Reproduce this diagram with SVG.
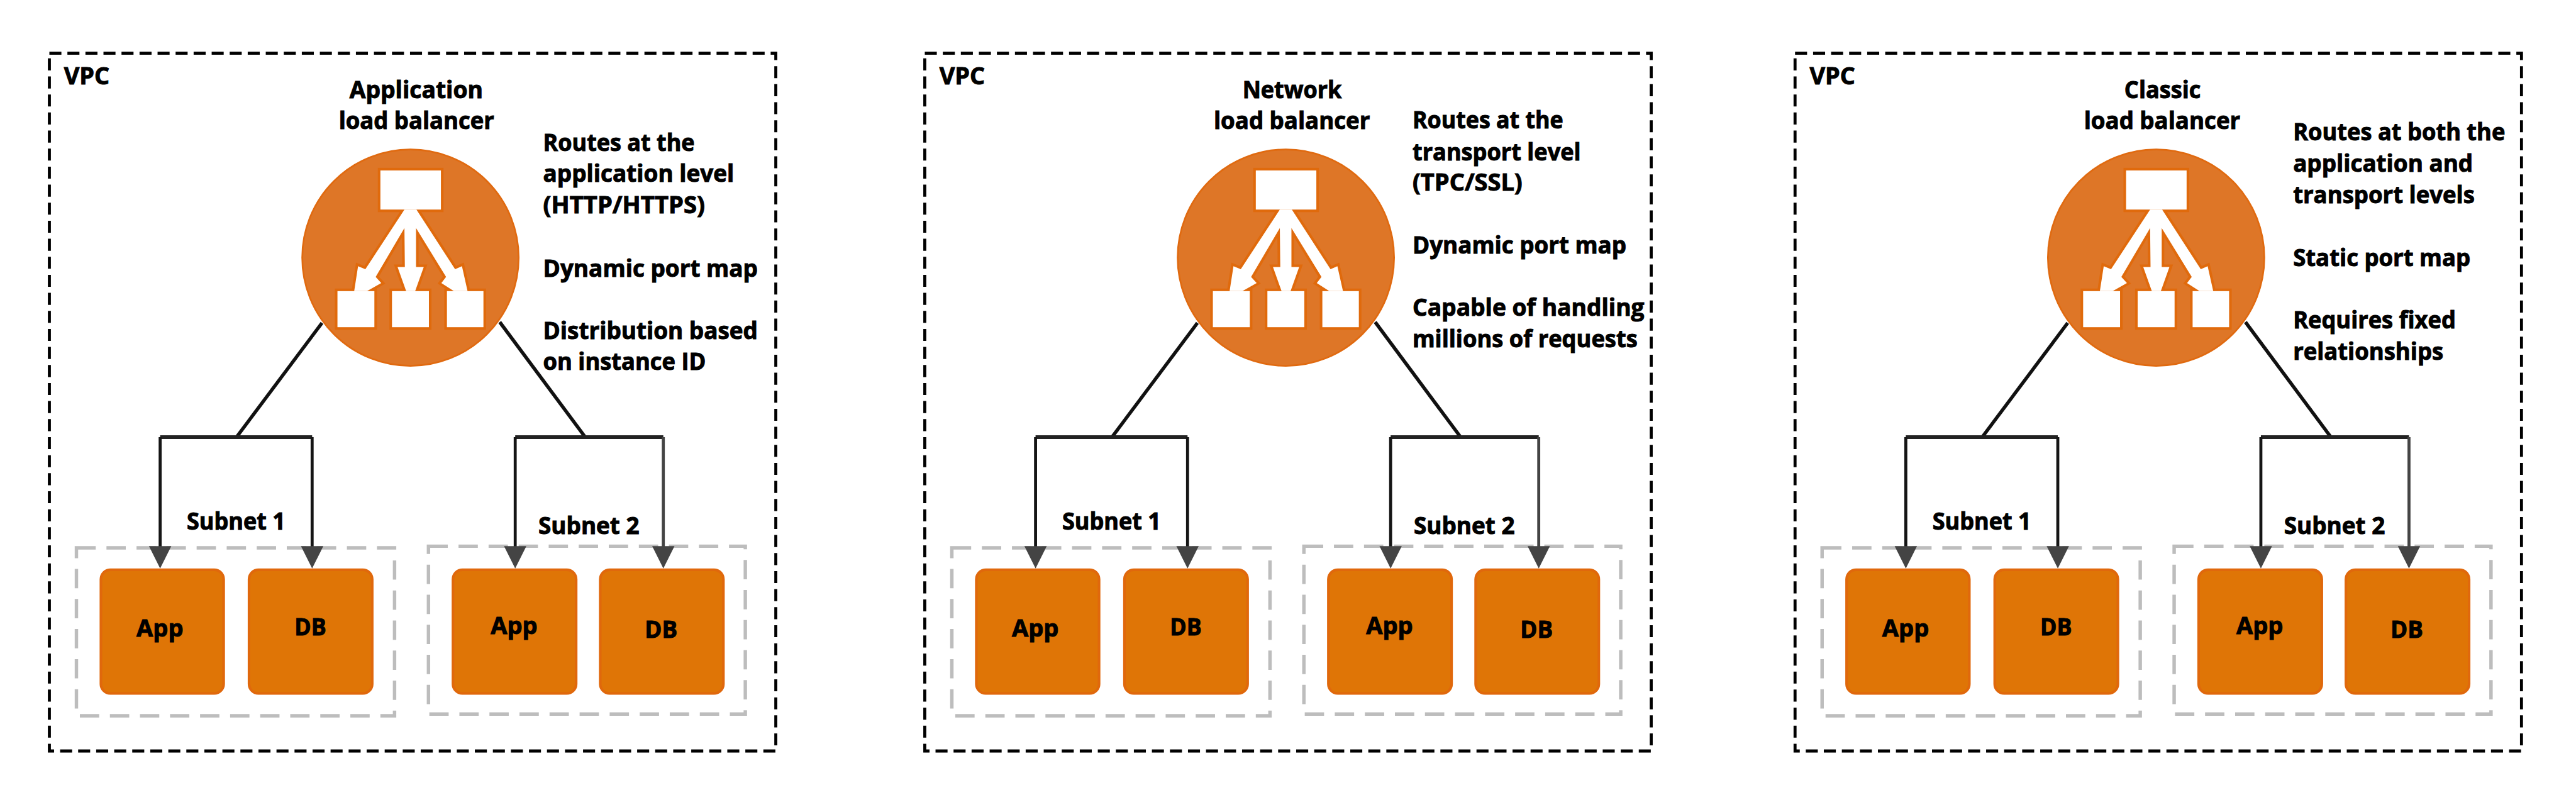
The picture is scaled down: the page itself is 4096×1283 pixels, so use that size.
<svg xmlns="http://www.w3.org/2000/svg" xmlns:xlink="http://www.w3.org/1999/xlink" width="4096" height="1283" viewBox="0 0 4096 1283">
<style>
text{font-family:"Open Sans","Noto Sans","Liberation Sans",sans-serif;font-weight:700;font-size:56px;fill:#000;stroke:#000;stroke-width:1.5}
.vpc{fill:none;stroke:#000;stroke-width:7;stroke-dasharray:28 14}
.sub{fill:none;stroke:#bdbdbd;stroke-width:8;stroke-dasharray:45 25}
.box{fill:#df7506;stroke:#e0680c;stroke-width:6}
.lb{fill:#de7627;stroke:#e06a10;stroke-width:4}
.c{fill:none;stroke:#111;stroke-width:8}
.bar{fill:none;stroke:#222;stroke-width:9}
.a{fill:none;stroke:#151515;stroke-width:7;marker-end:url(#ah)}
.a2{fill:none;stroke:#444;stroke-width:7;marker-end:url(#ah)}
</style>
<defs>
<marker id="ah" markerUnits="userSpaceOnUse" markerWidth="56" markerHeight="56" refX="28" refY="28" orient="auto" viewBox="0 0 56 56"><path d="M0 2L52 28L0 54Z" fill="#444"/></marker>
<g id="iconShape">
<polygon points="-14,-112 -105,27 -122,20 -131,78 -101,78 -68,59 -81,45 -14,-69 -13,22 -30,22 -10,78 11,78 31,22 13,22 13,-69 83,45 72,59 101,78 133,78 120,20 104,27 14,-112"/>
<rect x="-70" y="-203" width="141" height="91"/>
<rect x="-170" y="78" width="86" height="84"/>
<rect x="-43" y="78" width="86" height="84"/>
<rect x="85" y="78" width="85" height="84"/>
</g>
<g id="lbIcon">
<use href="#iconShape" xlink:href="#iconShape" fill="#e06a0c" stroke="#e06a0c" stroke-width="12"/>
<use href="#iconShape" xlink:href="#iconShape" fill="#fff"/>
</g>
</defs>
<rect width="4096" height="1283" fill="#fff"/>
<g transform="scale(0.68267)">
<g id="containers">
<g id="vpc1"><rect class="vpc" x="115" y="124" width="1692" height="1625"/><text x="149" y="196" textLength="106" lengthAdjust="spacingAndGlyphs">VPC</text></g>
<g id="vpc2"><rect class="vpc" x="2154" y="124" width="1692" height="1625"/><text x="2188" y="196" textLength="106" lengthAdjust="spacingAndGlyphs">VPC</text></g>
<g id="vpc3"><rect class="vpc" x="4181" y="124" width="1692" height="1625"/><text x="4215" y="196" textLength="106" lengthAdjust="spacingAndGlyphs">VPC</text></g>
<g id="subnet1-1"><rect class="sub" x="178" y="1276" width="741" height="391"/><text x="435" y="1234" textLength="230" lengthAdjust="spacingAndGlyphs">Subnet 1</text></g>
<g id="subnet1-2"><rect class="sub" x="998" y="1272" width="738" height="391"/><text x="1254" y="1244" textLength="235" lengthAdjust="spacingAndGlyphs">Subnet 2</text></g>
<g id="subnet2-1"><rect class="sub" x="2217" y="1276" width="741" height="391"/><text x="2474" y="1234" textLength="230" lengthAdjust="spacingAndGlyphs">Subnet 1</text></g>
<g id="subnet2-2"><rect class="sub" x="3037" y="1272" width="738" height="391"/><text x="3293" y="1244" textLength="235" lengthAdjust="spacingAndGlyphs">Subnet 2</text></g>
<g id="subnet3-1"><rect class="sub" x="4244" y="1276" width="741" height="391"/><text x="4501" y="1234" textLength="230" lengthAdjust="spacingAndGlyphs">Subnet 1</text></g>
<g id="subnet3-2"><rect class="sub" x="5064" y="1272" width="738" height="391"/><text x="5320" y="1244" textLength="235" lengthAdjust="spacingAndGlyphs">Subnet 2</text></g>
</g>
<g id="connectors">
<path class="c" d="M750 752L551 1018"/><path class="c" d="M1164 750L1363 1018"/>
<path class="bar" d="M373 1018H727"/><path class="bar" d="M1200 1018H1545"/>
<path class="a" d="M373 1018V1300"/><path class="a" d="M727 1018V1300"/><path class="a" d="M1200 1018V1300"/><path class="a2" d="M1545 1018V1300"/>
<path class="c" d="M2789 752L2590 1018"/><path class="c" d="M3203 750L3402 1018"/>
<path class="bar" d="M2412 1018H2766"/><path class="bar" d="M3239 1018H3584"/>
<path class="a" d="M2412 1018V1300"/><path class="a" d="M2766 1018V1300"/><path class="a" d="M3239 1018V1300"/><path class="a2" d="M3584 1018V1300"/>
<path class="c" d="M4816 752L4617 1018"/><path class="c" d="M5230 750L5429 1018"/>
<path class="bar" d="M4439 1018H4793"/><path class="bar" d="M5266 1018H5611"/>
<path class="a" d="M4439 1018V1300"/><path class="a" d="M4793 1018V1300"/><path class="a" d="M5266 1018V1300"/><path class="a2" d="M5611 1018V1300"/>
</g>
<g id="lb1"><circle class="lb" cx="956" cy="600" r="252"/><use href="#lbIcon" xlink:href="#lbIcon" transform="translate(956 600)"/>
<text x="814" y="229" textLength="311" lengthAdjust="spacingAndGlyphs">Application</text><text x="789" y="301" textLength="362" lengthAdjust="spacingAndGlyphs">load balancer</text></g>
<g id="lb2"><circle class="lb" cx="2995" cy="600" r="252"/><use href="#lbIcon" xlink:href="#lbIcon" transform="translate(2995 600)"/>
<text x="2894" y="229" textLength="231" lengthAdjust="spacingAndGlyphs">Network</text><text x="2827" y="301" textLength="364" lengthAdjust="spacingAndGlyphs">load balancer</text></g>
<g id="lb3"><circle class="lb" cx="5022" cy="600" r="252"/><use href="#lbIcon" xlink:href="#lbIcon" transform="translate(5022 600)"/>
<text x="4948" y="229" textLength="178" lengthAdjust="spacingAndGlyphs">Classic</text><text x="4854" y="301" textLength="364" lengthAdjust="spacingAndGlyphs">load balancer</text></g>
<g id="notes1">
<text x="1265" y="351" textLength="353" lengthAdjust="spacingAndGlyphs">Routes at the</text>
<text x="1265" y="424" textLength="445" lengthAdjust="spacingAndGlyphs">application level</text>
<text x="1265" y="497" textLength="377" lengthAdjust="spacingAndGlyphs">(HTTP/HTTPS)</text>
<text x="1265" y="644" textLength="500" lengthAdjust="spacingAndGlyphs">Dynamic port map</text>
<text x="1265" y="789" textLength="500" lengthAdjust="spacingAndGlyphs">Distribution based</text>
<text x="1265" y="862" textLength="379" lengthAdjust="spacingAndGlyphs">on instance ID</text>
</g>
<g id="notes2">
<text x="3290" y="299" textLength="351" lengthAdjust="spacingAndGlyphs">Routes at the</text>
<text x="3290" y="373" textLength="392" lengthAdjust="spacingAndGlyphs">transport level</text>
<text x="3290" y="444" textLength="256" lengthAdjust="spacingAndGlyphs">(TPC/SSL)</text>
<text x="3290" y="591" textLength="498" lengthAdjust="spacingAndGlyphs">Dynamic port map</text>
<text x="3290" y="736" textLength="540" lengthAdjust="spacingAndGlyphs">Capable of handling</text>
<text x="3290" y="809" textLength="524" lengthAdjust="spacingAndGlyphs">millions of requests</text>
</g>
<g id="notes3">
<text x="5341" y="327" textLength="494" lengthAdjust="spacingAndGlyphs">Routes at both the</text>
<text x="5341" y="400" textLength="419" lengthAdjust="spacingAndGlyphs">application and</text>
<text x="5341" y="473" textLength="423" lengthAdjust="spacingAndGlyphs">transport levels</text>
<text x="5341" y="620" textLength="413" lengthAdjust="spacingAndGlyphs">Static port map</text>
<text x="5341" y="765" textLength="379" lengthAdjust="spacingAndGlyphs">Requires fixed</text>
<text x="5341" y="838" textLength="350" lengthAdjust="spacingAndGlyphs">relationships</text>
</g>
<g id="app1-1"><rect class="box" x="235" y="1327" width="286" height="288" rx="22"/><text x="318" y="1482" textLength="109" lengthAdjust="spacingAndGlyphs">App</text></g>
<g id="db1-1"><rect class="box" x="580" y="1327" width="287" height="288" rx="22"/><text x="686" y="1480" textLength="74" lengthAdjust="spacingAndGlyphs">DB</text></g>
<g id="app1-2"><rect class="box" x="1055" y="1327" width="287" height="288" rx="22"/><text x="1143" y="1477" textLength="109" lengthAdjust="spacingAndGlyphs">App</text></g>
<g id="db1-2"><rect class="box" x="1398" y="1327" width="287" height="288" rx="22"/><text x="1502" y="1485" textLength="76" lengthAdjust="spacingAndGlyphs">DB</text></g>
<g id="app2-1"><rect class="box" x="2274" y="1327" width="286" height="288" rx="22"/><text x="2357" y="1482" textLength="109" lengthAdjust="spacingAndGlyphs">App</text></g>
<g id="db2-1"><rect class="box" x="2619" y="1327" width="287" height="288" rx="22"/><text x="2725" y="1480" textLength="74" lengthAdjust="spacingAndGlyphs">DB</text></g>
<g id="app2-2"><rect class="box" x="3094" y="1327" width="287" height="288" rx="22"/><text x="3182" y="1477" textLength="109" lengthAdjust="spacingAndGlyphs">App</text></g>
<g id="db2-2"><rect class="box" x="3437" y="1327" width="287" height="288" rx="22"/><text x="3541" y="1485" textLength="76" lengthAdjust="spacingAndGlyphs">DB</text></g>
<g id="app3-1"><rect class="box" x="4301" y="1327" width="286" height="288" rx="22"/><text x="4384" y="1482" textLength="109" lengthAdjust="spacingAndGlyphs">App</text></g>
<g id="db3-1"><rect class="box" x="4646" y="1327" width="287" height="288" rx="22"/><text x="4752" y="1480" textLength="74" lengthAdjust="spacingAndGlyphs">DB</text></g>
<g id="app3-2"><rect class="box" x="5121" y="1327" width="287" height="288" rx="22"/><text x="5209" y="1477" textLength="109" lengthAdjust="spacingAndGlyphs">App</text></g>
<g id="db3-2"><rect class="box" x="5464" y="1327" width="287" height="288" rx="22"/><text x="5568" y="1485" textLength="76" lengthAdjust="spacingAndGlyphs">DB</text></g>
</g>
</svg>
